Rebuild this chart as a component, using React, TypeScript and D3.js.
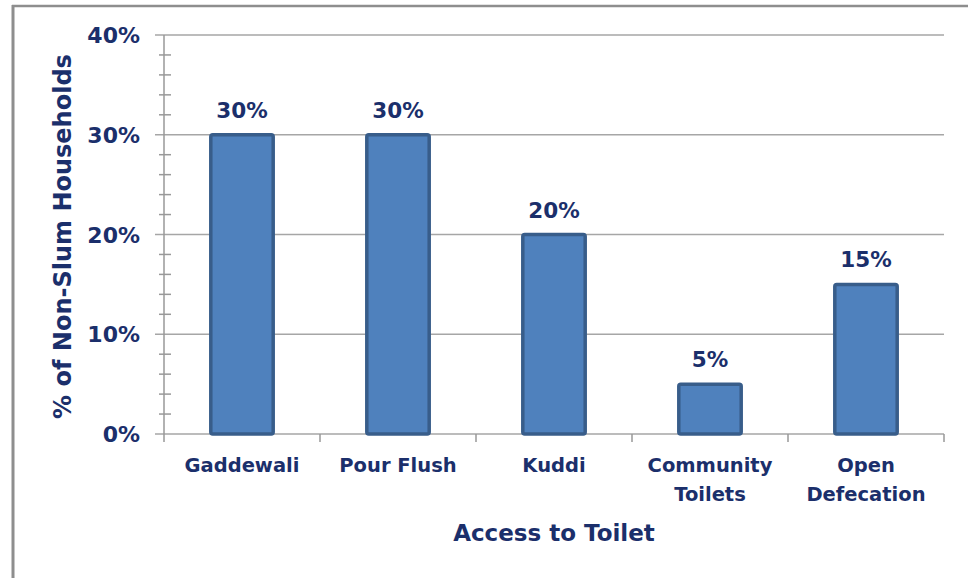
import React from "react";
import * as d3 from "d3";

const categories: string[][] = [
  ["Gaddewali"],
  ["Pour Flush"],
  ["Kuddi"],
  ["Community", "Toilets"],
  ["Open", "Defecation"],
];
const values: number[] = [30, 30, 20, 5, 15];
const yTicks: number[] = [0, 10, 20, 30, 40];
const yMinorTicks: number[] = d3.range(0, 41, 2);
const yTitle = "% of Non-Slum Households";
const xTitle = "Access to Toilet";

const W = 968;
const H = 578;
const left = 164;
const right = 944;
const top = 35;
const bottom = 434;
const navy = "#1B2F6B";
const font = "'DejaVu Sans', sans-serif";

export default function App() {
  const keys = categories.map((c) => c.join(" "));
  const x = d3.scaleBand<string>().domain(keys).range([left, right]).padding(0);
  const y = d3.scaleLinear().domain([0, 40]).range([bottom, top]);
  const bw = x.bandwidth() * 0.4;

  return (
    <svg
      width={W}
      height={H}
      style={{ position: "absolute", left: 0, top: 0, background: "#fff" }}
      fontFamily={font}
    >
      {/* frame */}
      <line x1={12} y1={6} x2={W} y2={6} stroke="#8E8E8E" strokeWidth={2.5} />
      <line x1={13} y1={5} x2={13} y2={H} stroke="#8E8E8E" strokeWidth={3} />

      {/* gridlines */}
      {yTicks.map((t) => (
        <line
          key={"g" + t}
          x1={155}
          x2={right}
          y1={y(t)}
          y2={y(t)}
          stroke="#A6A6A6"
          strokeWidth={1.5}
        />
      ))}
      {/* minor ticks */}
      {yMinorTicks
        .filter((t) => t % 10 !== 0)
        .map((t) => (
          <line
            key={"m" + t}
            x1={159}
            x2={171}
            y1={y(t)}
            y2={y(t)}
            stroke="#999"
            strokeWidth={1.5}
          />
        ))}
      {/* y axis */}
      <line x1={left} x2={left} y1={top} y2={bottom + 8} stroke="#999" strokeWidth={1.5} />
      {/* x axis ticks */}
      {keys.map((k, i) => (
        <line
          key={"xt" + i}
          x1={(x(k) as number) + x.bandwidth()}
          x2={(x(k) as number) + x.bandwidth()}
          y1={bottom}
          y2={bottom + 8}
          stroke="#999"
          strokeWidth={1.5}
        />
      ))}

      {/* bars */}
      {keys.map((k, i) => {
        const cx = (x(k) as number) + x.bandwidth() / 2;
        return (
          <g key={"b" + i}>
            <rect
              x={cx - bw / 2}
              y={y(values[i])}
              width={bw}
              height={bottom - y(values[i])}
              fill="#4F81BD"
              stroke="#385D8A"
              strokeWidth={3.5}
              rx={2}
            />
            <text
              x={cx}
              y={y(values[i]) - 17}
              textAnchor="middle"
              fontSize={21.5}
              fontWeight="bold"
              fill={navy}
            >
              {values[i]}%
            </text>
          </g>
        );
      })}

      {/* y tick labels */}
      {yTicks.map((t) => (
        <text
          key={"yl" + t}
          x={140}
          y={y(t) + 8}
          textAnchor="end"
          fontSize={22}
          fontWeight="bold"
          fill={navy}
        >
          {t}%
        </text>
      ))}

      {/* x labels */}
      {categories.map((lines, i) => {
        const cx = (x(keys[i]) as number) + x.bandwidth() / 2;
        return (
          <text
            key={"xl" + i}
            x={cx}
            textAnchor="middle"
            fontSize={19.5}
            fontWeight="bold"
            fill={navy}
          >
            {lines.map((l, j) => (
              <tspan key={j} x={cx} y={472 + j * 29}>
                {l}
              </tspan>
            ))}
          </text>
        );
      })}

      {/* axis titles */}
      <text
        x={(left + right) / 2}
        y={541}
        textAnchor="middle"
        fontSize={23}
        fontWeight="bold"
        fill={navy}
      >
        {xTitle}
      </text>
      <text
        transform={`translate(71, ${(top + bottom) / 2 + 2}) rotate(-90)`}
        textAnchor="middle"
        fontSize={24}
        fontWeight="bold"
        fill={navy}
      >
        {yTitle}
      </text>
    </svg>
  );
}
